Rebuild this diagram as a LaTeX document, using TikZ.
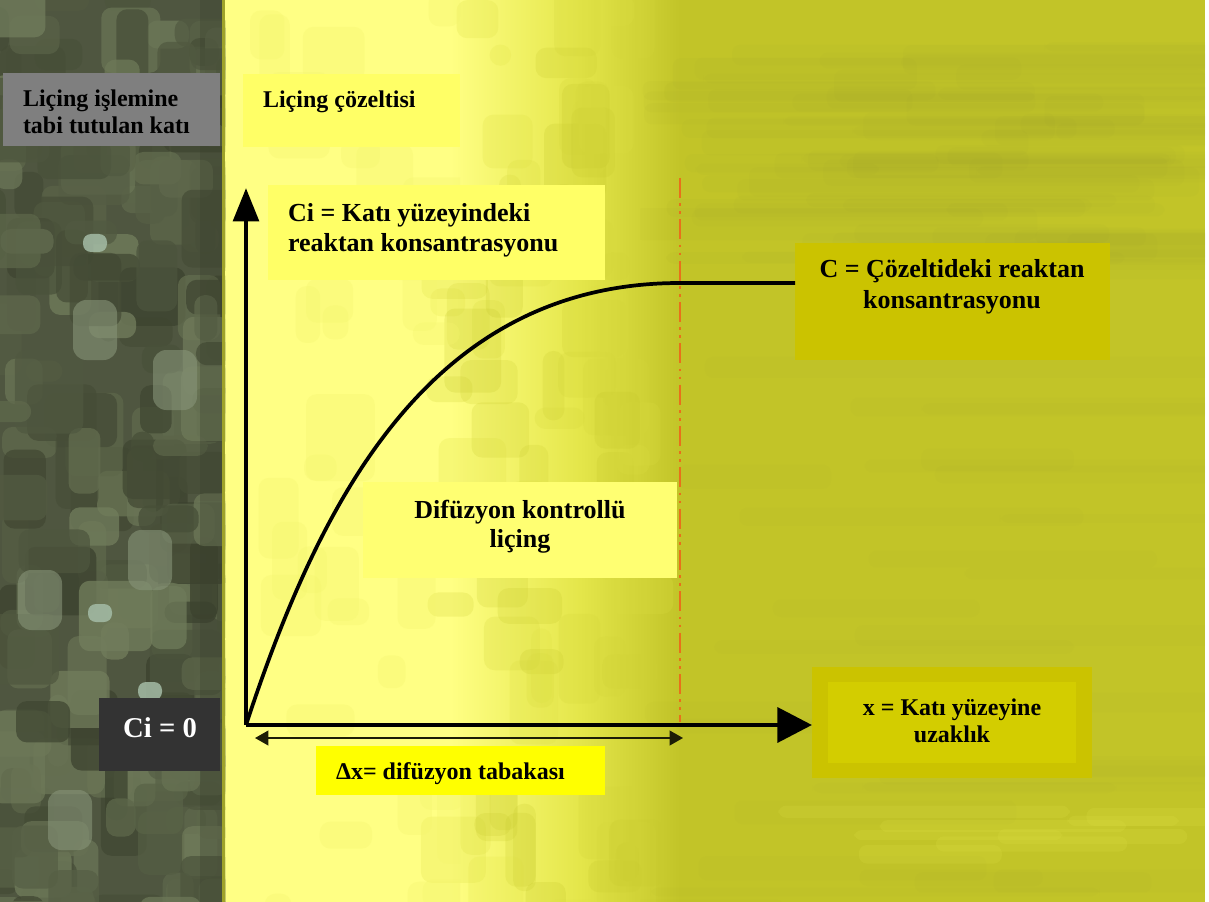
\documentclass[tikz,border=0pt]{standalone}
\usepackage{fontspec}
\setmainfont{Liberation Serif}
\usetikzlibrary{arrows.meta,fit}
\definecolor{camoB}{HTML}{4F5640}
\definecolor{camoD}{HTML}{3A402D}
\definecolor{camoL}{HTML}{74805E}
\definecolor{camoP}{HTML}{879478}
\definecolor{camoT}{HTML}{A4BCA6}
\definecolor{ylight}{HTML}{FFFF84}
\definecolor{ymid}{HTML}{E4E64A}
\definecolor{olive}{HTML}{C2C428}
\definecolor{oliveD}{HTML}{9EA22A}
\definecolor{boxY}{HTML}{FFFF66}
\definecolor{boxY2}{HTML}{FFFF72}
\definecolor{boxYY}{HTML}{FFFF00}
\definecolor{boxOl}{HTML}{CBC300}
\definecolor{boxOlIn}{HTML}{D3CD00}
\definecolor{boxGray}{HTML}{7F7F7F}
\definecolor{boxDark}{HTML}{333333}
\definecolor{dashOr}{HTML}{E8701A}
\begin{document}
\begin{tikzpicture}[x=0.75pt,y=-0.75pt,
  panel/.style={inner sep=0pt, outer sep=0pt, draw=none},
  txt/.style={inner sep=0pt, outer sep=0pt},
  fsmall/.style={font=\fontsize{18}{20}\selectfont\bfseries},
  fbig/.style={font=\fontsize{19.5}{22.5}\selectfont\bfseries},
  axisline/.style={line width=3.6pt, black},
]
\useasboundingbox (0,0) rectangle (1209,902);
% ---------- background ----------
\fill[white] (0,0) rectangle (1209,902);
\fill[ylight] (225,0) rectangle (1205,902);
\shade[left color=ylight, right color=ymid] (450,0) rectangle (580,902);
\shade[left color=ymid, right color=olive] (580,0) rectangle (680,902);
\fill[olive] (680,0) rectangle (1205,902);
\pgfmathsetseed{21}
% mottled transition
\begin{scope}
  \clip (420,0) rectangle (690,902);
  \foreach \k in {1,...,80} {
    \pgfmathsetmacro\xx{420+200*rnd}
    \pgfmathsetmacro\yy{-30+932*rnd}
    \pgfmathsetmacro\ww{20+50*rnd}
    \pgfmathsetmacro\hh{20+70*rnd}
    \pgfmathtruncatemacro\m{100*rnd}
    \fill[ymid!\m!olive, opacity=0.22, rounded corners=8] (\xx,\yy) rectangle ++(\ww,\hh);
  }
\end{scope}
\begin{scope}
  \clip (230,0) rectangle (460,902);
  \foreach \k in {1,...,35} {
    \pgfmathsetmacro\xx{240+200*rnd}
    \pgfmathsetmacro\yy{-30+932*rnd}
    \pgfmathsetmacro\ww{20+50*rnd}
    \pgfmathsetmacro\hh{20+70*rnd}
    \fill[ymid!40!ylight, opacity=0.3, rounded corners=8] (\xx,\yy) rectangle ++(\ww,\hh);
  }
\end{scope}
% soft horizontal streaks in olive area
\begin{scope}
  \clip (640,0) rectangle (1205,902);
  \foreach \k in {1,...,70} {
    \pgfmathsetmacro\xx{620+450*rnd}
    \pgfmathsetmacro\yy{40+220*rnd}
    \pgfmathsetmacro\ww{150+400*rnd}
    \pgfmathsetmacro\hh{8+24*rnd}
    \fill[oliveD, opacity=0.06, rounded corners=6] (\xx,\yy) rectangle ++(\ww,\hh);
  }
  \foreach \k in {1,...,30} {
    \pgfmathsetmacro\xx{620+450*rnd}
    \pgfmathsetmacro\yy{300+600*rnd}
    \pgfmathsetmacro\ww{150+400*rnd}
    \pgfmathsetmacro\hh{8+20*rnd}
    \fill[oliveD, opacity=0.04, rounded corners=6] (\xx,\yy) rectangle ++(\ww,\hh);
  }
  \foreach \k in {1,...,8} {
    \pgfmathsetmacro\xx{700+400*rnd}
    \pgfmathsetmacro\yy{795+50*rnd}
    \pgfmathsetmacro\ww{100+200*rnd}
    \pgfmathsetmacro\hh{8+14*rnd}
    \fill[ymid, opacity=0.15, rounded corners=6] (\xx,\yy) rectangle ++(\ww,\hh);
  }
\end{scope}
% camouflage strip
\begin{scope}
  \clip (0,0) rectangle (225,902);
  \fill[camoB] (0,0) rectangle (225,902);
  \foreach \k in {1,...,220} {
    \pgfmathsetmacro\xx{-30+250*rnd}
    \pgfmathsetmacro\yy{-30+932*rnd}
    \pgfmathsetmacro\ww{20+55*rnd}
    \pgfmathsetmacro\hh{20+65*rnd}
    \pgfmathtruncatemacro\m{100*rnd}
    \fill[camoL!\m!camoD, opacity=0.75, rounded corners=8] (\xx,\yy) rectangle ++(\ww,\hh);
  }
  \foreach \cx/\cy in {95/330, 175/380, 40/600, 150/560, 70/820} {
    \fill[camoP, opacity=0.6, rounded corners=10] (\cx-22,\cy-30) rectangle (\cx+22,\cy+30);
  }
  \foreach \cx/\cy in {95/242, 100/612, 150/690} {
    \fill[camoT, opacity=0.85, rounded corners=6] (\cx-12,\cy-8) rectangle (\cx+12,\cy+10);
  }
  \fill[camoD, opacity=0.3] (200,0) rectangle (222,902);
  \fill[oliveD] (222,0) rectangle (225,902);
\end{scope}
% ---------- boxes ----------
\node[panel, fit={(3,73) (220,146)}, fill=boxGray] (tlbox) {};
\node[panel, fit={(243,74) (460,147)}, fill=boxY] (solbox) {};
\node[panel, fit={(268,185) (605,280)}, fill=boxY] (cibox) {};
\node[panel, fit={(795,243) (1110,360)}, fill=boxOl] (cbox) {};
\node[panel, fit={(363,482) (677,578)}, fill=boxY2] (difbox) {};
\node[panel, fit={(316,746) (605,795)}, fill=boxYY] (dxbox) {};
\node[panel, fit={(812,667) (1092,778)}, fill=boxOl] (xbox) {};
\node[panel, fit={(828,682) (1076,763)}, fill=boxOlIn] (xboxin) {};
\node[panel, fit={(99,698) (220,771)}, fill=boxDark] (ci0box) {};
% ---------- connectors ----------
\coordinate (O) at (246,725);
\coordinate (ytip) at (246,188);
\coordinate (xtip) at (812,725);
\coordinate (dTop) at (680,178);
\coordinate (dBot) at (680,722);
\coordinate (cflat) at (680,283);
\coordinate (cend) at (795,283);
\coordinate (dxL) at (255,738);
\coordinate (dxR) at (683,738);
\draw[dashOr, line width=2.2pt, dash pattern=on 15pt off 4pt on 2pt off 4pt on 2pt off 4pt] (dTop) -- (dBot);
\draw[line width=2.8pt, black] (O) .. controls (320,500) and (430,283) .. (cflat) -- (cend);
\draw[axisline, -{Triangle[length=25pt,width=19pt]}] (O) -- (ytip);
\draw[axisline, -{Triangle[length=26pt,width=26pt]}] (O) -- (xtip);
\draw[line width=1.4pt, black!85!olive, {Triangle[length=10pt,width=11pt]}-{Triangle[length=10pt,width=11pt]}] (dxL) -- (dxR);
% ---------- texts ----------
\node[txt, fsmall, anchor=base west] (tlT) at (23,106.7)
  {\begin{tabular}[t]{@{}l@{}}Liçing işlemine\\tabi tutulan katı\end{tabular}};
\node[txt, fsmall, anchor=base west] (solT) at (263,107.7) {Liçing çözeltisi};
\node[txt, fbig, anchor=base west] (ciT) at (288,221.7)
  {\begin{tabular}[t]{@{}l@{}}Ci = Katı yüzeyindeki\\reaktan konsantrasyonu\end{tabular}};
\node[txt, font=\fontsize{19.5}{23.25}\selectfont\bfseries, anchor=base] (cT) at (952,277)
  {\begin{tabular}[t]{@{}c@{}}C = Çözeltideki reaktan\\konsantrasyonu\end{tabular}};
\node[txt, font=\fontsize{19.5}{21.75}\selectfont\bfseries, anchor=base] (difT) at (520,518)
  {\begin{tabular}[t]{@{}c@{}}Difüzyon kontrollü\\liçing\end{tabular}};
\node[txt, fsmall, anchor=base west] (dxT) at (336,779) {Δx= difüzyon tabakası};
\node[txt, font=\fontsize{18}{20.25}\selectfont\bfseries, anchor=base] (xT) at (952,715)
  {\begin{tabular}[t]{@{}c@{}}x = Katı yüzeyine\\uzaklık\end{tabular}};
\node[txt, font=\fontsize{21.5}{24}\selectfont\bfseries, text=white, anchor=base] (ci0T) at (160,737) {Ci = 0};
\end{tikzpicture}
\end{document}
